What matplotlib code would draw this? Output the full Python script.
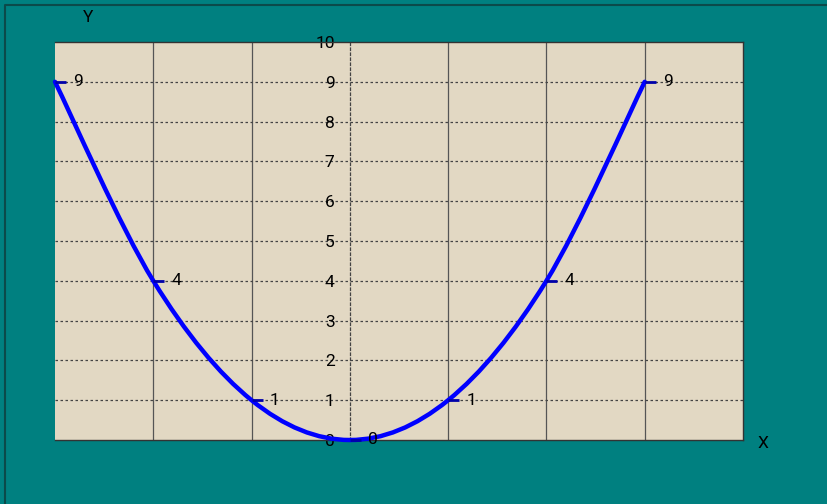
import matplotlib
matplotlib.use("Agg")
import matplotlib.pyplot as plt
from matplotlib.path import Path
from matplotlib.patches import PathPatch
from matplotlib.lines import Line2D

# data points
x_vals = [-3, -2, -1, 0, 1, 2, 3]
y_vals = [9, 4, 1, 0, 1, 4, 9]
point_labels = ["9", "4", "1", "0", "1", "4", "9"]
y_ticks = [0, 1, 2, 3, 4, 5, 6, 7, 8, 9, 10]

plt.rcParams['font.family'] = ['Roboto', 'DejaVu Sans']

fig = plt.figure(figsize=(8.27, 5.04), dpi=100, facecolor='#008080')
# outer frame only shows on top and left
fig.lines.append(Line2D([5 / 827, 5 / 827, 1], [0, 1 - 5 / 504, 1 - 5 / 504],
                        transform=fig.transFigure, color='#0b4a4a', linewidth=1.5))
ax = fig.add_axes([55 / 827, 64 / 504, 688 / 827, 398 / 504])
ax.set_facecolor('#e2d8c3')
ax.set_xlim(-3, 4)
ax.set_ylim(0, 10)

# grid
for gx in [-2, -1, 1, 2, 3]:
    ax.axvline(gx, color='#555555', linewidth=0.9, zorder=1)
for gy in y_ticks[1:-1]:
    ax.axhline(gy, color='#444444', linewidth=0.9, linestyle=(0, (2, 2)), zorder=1)

# y axis at x = 0
ax.spines['left'].set_position(('data', 0))
ax.spines['left'].set_linestyle((0, (2, 2)))
ax.spines['left'].set_linewidth(0.9)
ax.spines['left'].set_color('#444444')
for s in ['top', 'right', 'bottom']:
    ax.spines[s].set_color('#333333')
    ax.spines[s].set_linewidth(1.0)
ax.set_yticks(y_ticks)
ax.set_yticklabels([str(t) for t in y_ticks])
ax.tick_params(axis='y', length=0, pad=11, labelsize=12.5)
ax.set_xticks([])

# smooth line (bezier through the points)
pts = list(zip(x_vals, y_vals))
verts = [pts[0]]
codes = [Path.MOVETO]
for i in range(len(pts) - 1):
    p0 = pts[i - 1] if i > 0 else pts[i]
    p1 = pts[i]
    p2 = pts[i + 1]
    p3 = pts[i + 2] if i + 2 < len(pts) else pts[i + 1]
    c1 = (p1[0] + (p2[0] - p0[0]) / 6, p1[1] + (p2[1] - p0[1]) / 6)
    c2 = (p2[0] - (p3[0] - p1[0]) / 6, p2[1] - (p3[1] - p1[1]) / 6)
    verts += [c1, c2, p2]
    codes += [Path.CURVE4] * 3
ax.add_patch(PathPatch(Path(verts, codes), facecolor='none', edgecolor='#0000ff',
                       linewidth=3.2, zorder=3, clip_on=False, capstyle='round'))

# dash markers and labels
dash = Path([(0, 0), (1, 0)], [Path.MOVETO, Path.LINETO])
ax.plot(x_vals, y_vals, linestyle='none', marker=dash, markersize=16,
        markeredgecolor='#0000aa', markeredgewidth=2, zorder=4, clip_on=False)
for xv, yv, lab in zip(x_vals, y_vals, point_labels):
    ax.annotate(lab, (xv, yv), xytext=(13, 0), textcoords='offset points',
                ha='left', va='center', fontsize=12.5, zorder=5)

fig.text(88 / 827, 1 - 18 / 504, "Y", ha='center', va='center', fontsize=12.5)
fig.text(763 / 827, 1 - 443 / 504, "X", ha='center', va='center', fontsize=12.5)

fig.savefig("out.png", dpi=100, facecolor=fig.get_facecolor())
